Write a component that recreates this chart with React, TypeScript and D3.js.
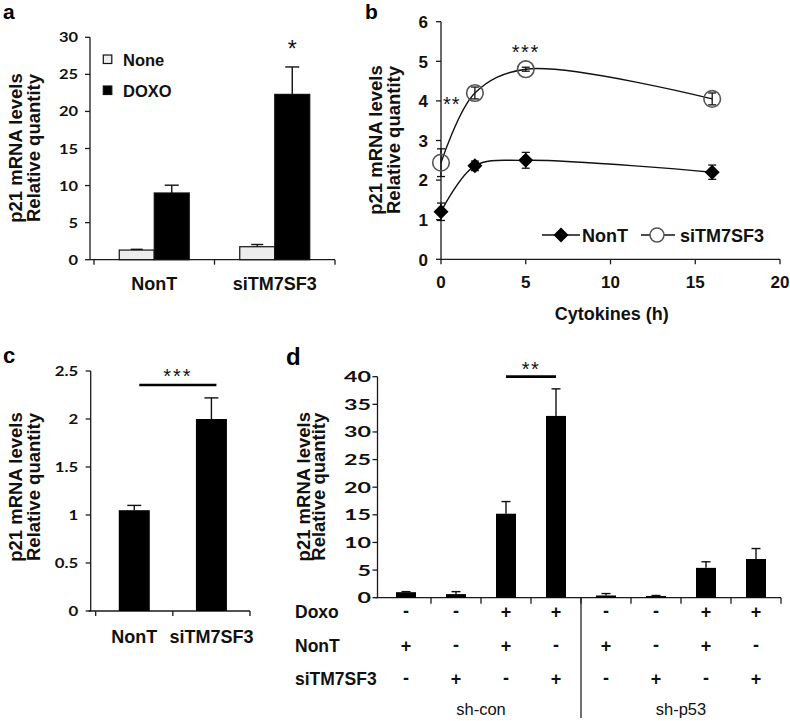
import React from "react";
import * as d3 from "d3";

// ---------- Panel a ----------
const aCategories = ["NonT", "siTM7SF3"];
const aSeries = ["None", "DOXO"];
const aNoneValues = [1.3, 1.75];
const aNoneErrors = [0.1, 0.3];
const aDoxoValues = [9.0, 22.3];
const aDoxoErrors = [1.05, 3.7];
const aYTicks = [0, 5, 10, 15, 20, 25, 30];

// ---------- Panel b ----------
const bTimes = [0, 2, 5, 16];
const bNonTValues = [1.2, 2.36, 2.5, 2.2];
const bNonTErrors = [0.22, 0.12, 0.2, 0.18];
const bSiValues = [2.44, 4.2, 4.8, 4.05];
const bSiErrors = [0.35, 0.15, 0.05, 0.15];
const bXTicks = [0, 5, 10, 15, 20];
const bYTicks = [0, 1, 2, 3, 4, 5, 6];
const bSeries = ["NonT", "siTM7SF3"];

// ---------- Panel c ----------
const cCategories = ["NonT", "siTM7SF3"];
const cValues = [1.05, 2.0];
const cErrors = [0.05, 0.22];
const cYTicks = [0, 0.5, 1, 1.5, 2, 2.5];

// ---------- Panel d ----------
const dValues = [1.0, 0.65, 15.2, 32.9, 0.4, 0.3, 5.4, 7.0];
const dErrors = [0.1, 0.45, 2.2, 4.9, 0.35, 0.1, 1.1, 1.9];
const dDoxo = ["-", "-", "+", "+", "-", "-", "+", "+"];
const dNonT = ["+", "-", "+", "-", "+", "-", "+", "-"];
const dSi = ["-", "+", "-", "+", "-", "+", "-", "+"];
const dRowLabels = ["Doxo", "NonT", "siTM7SF3"];
const dGroups = ["sh-con", "sh-p53"];
const dYTicks = [0, 5, 10, 15, 20, 25, 30, 35, 40];

const ARIAL = "'Liberation Sans', Arial, Helvetica, sans-serif";
const CAL = "Lato, 'Open Sans', sans-serif";
const AX = "#1a1a1a";

function SText({ x, y, sx = 1, anchor = "end", size, family, weight = "bold", children }: any) {
  return (
    <text
      transform={`translate(${x},${y}) scale(${sx},1)`}
      textAnchor={anchor}
      fontFamily={family}
      fontWeight={weight}
      fontSize={size}
      fill="#111"
    >
      {children}
    </text>
  );
}

function YTitle({ x1, x2, cy, size = 18.5 }: any) {
  return (
    <g fontFamily={ARIAL} fontWeight="bold" fontSize={size} fill="#111" textAnchor="middle">
      <text transform={`translate(${x1},${cy}) rotate(-90)`}>p21 mRNA levels</text>
      <text transform={`translate(${x2},${cy}) rotate(-90)`}>Relative quantity</text>
    </g>
  );
}

function PanelA() {
  const x = d3.scaleBand().domain(aCategories).range([94, 335]);
  const y = d3.scaleLinear().domain([0, 30]).range([259.7, 37.3]);
  const bw = 35;
  const axisX = 90;
  return (
    <g>
      <text x={3} y={19} fontFamily={ARIAL} fontWeight="bold" fontSize={21}>a</text>
      <YTitle x1={21.5} x2={39.5} cy={148} />
      <line x1={axisX} x2={axisX} y1={y(30)} y2={y(0)} stroke={AX} strokeWidth={1.3} />
      <line x1={axisX} x2={335} y1={y(0)} y2={y(0)} stroke={AX} strokeWidth={1.3} />
      {aYTicks.map((t) => (
        <g key={t}>
          <line x1={axisX - 5} x2={axisX} y1={y(t)} y2={y(t)} stroke={AX} strokeWidth={1.3} />
          <SText x={78} y={y(t) + 5} sx={1.22} size={13.5} family={CAL}>{t}</SText>
        </g>
      ))}
      {[94, ...aCategories.map((c) => (x(c) as number) + x.bandwidth())].map((v, i) => (
        <line key={i} x1={v} x2={v} y1={y(0)} y2={y(0) + 5} stroke={AX} strokeWidth={1.3} />
      ))}
      {aCategories.map((c, i) => {
        const cx = (x(c) as number) + x.bandwidth() / 2;
        return (
          <g key={c}>
            <line x1={cx - bw / 2} x2={cx - bw / 2} y1={y(aNoneValues[i])} y2={y(aNoneValues[i] + aNoneErrors[i])} stroke="#111" strokeWidth={1.4} />
            <line x1={cx - bw / 2 - 6} x2={cx - bw / 2 + 6} y1={y(aNoneValues[i] + aNoneErrors[i])} y2={y(aNoneValues[i] + aNoneErrors[i])} stroke="#111" strokeWidth={1.4} />
            <line x1={cx + bw / 2} x2={cx + bw / 2} y1={y(aDoxoValues[i])} y2={y(aDoxoValues[i] + aDoxoErrors[i])} stroke="#111" strokeWidth={1.4} />
            <line x1={cx + bw / 2 - 7} x2={cx + bw / 2 + 7} y1={y(aDoxoValues[i] + aDoxoErrors[i])} y2={y(aDoxoValues[i] + aDoxoErrors[i])} stroke="#111" strokeWidth={1.4} />
            <rect x={cx - bw} y={y(aNoneValues[i])} width={bw} height={y(0) - y(aNoneValues[i])} fill="#ededed" stroke="#111" strokeWidth={1.2} />
            <rect x={cx} y={y(aDoxoValues[i])} width={bw} height={y(0) - y(aDoxoValues[i])} fill="#000" stroke="#111" strokeWidth={1.2} />
            <SText x={cx} y={289.5} anchor="middle" size={18} family={ARIAL}>{c}</SText>
          </g>
        );
      })}
      <text x={(x("siTM7SF3") as number) + x.bandwidth() / 2 + bw / 2} y={57} textAnchor="middle" fontFamily={ARIAL} fontSize={23} fill="#111">*</text>
      {aSeries.map((s, i) => (
        <g key={s}>
          <rect x={103.3} y={55 + i * 31} width={8.5} height={8.5} fill={i === 0 ? "#ededed" : "#000"} stroke="#111" strokeWidth={1.2} />
          <text x={123} y={65.5 + i * 31.5} fontFamily={ARIAL} fontWeight="bold" fontSize={16.5} fill="#111">{s}</text>
        </g>
      ))}
    </g>
  );
}

function Diamond({ cx, cy, r }: any) {
  return <path d={`M${cx},${cy - r}L${cx + r},${cy}L${cx},${cy + r}L${cx - r},${cy}Z`} fill="#000" />;
}

function PanelB() {
  const x = d3.scaleLinear().domain([0, 20]).range([441, 780]);
  const y = d3.scaleLinear().domain([0, 6]).range([259.3, 21.7]);
  const line = d3
    .line<number>()
    .x((_, i) => x(bTimes[i]))
    .y((d) => y(d))
    .curve(d3.curveCatmullRom.alpha(0.5));
  return (
    <g>
      <text x={365} y={19} fontFamily={ARIAL} fontWeight="bold" fontSize={21}>b</text>
      <YTitle x1={381.5} x2={399.5} cy={140} />
      <line x1={x(0)} x2={x(0)} y1={y(6)} y2={y(0)} stroke={AX} strokeWidth={1.3} />
      <line x1={x(0)} x2={x(20)} y1={y(0)} y2={y(0)} stroke={AX} strokeWidth={1.3} />
      {bYTicks.map((t) => (
        <g key={t}>
          <line x1={x(0) - 5} x2={x(0)} y1={y(t)} y2={y(t)} stroke={AX} strokeWidth={1.3} />
          <text x={428} y={y(t) + 6.2} textAnchor="end" fontFamily={ARIAL} fontWeight="bold" fontSize={17} fill="#111">{t}</text>
        </g>
      ))}
      {bXTicks.map((t) => (
        <g key={t}>
          <line x1={x(t)} x2={x(t)} y1={y(0)} y2={y(0) + 5} stroke={AX} strokeWidth={1.3} />
          <text x={x(t)} y={287.5} textAnchor="middle" fontFamily={ARIAL} fontWeight="bold" fontSize={17} fill="#111">{t}</text>
        </g>
      ))}
      <text x={611.7} y={319.5} textAnchor="middle" fontFamily={ARIAL} fontWeight="bold" fontSize={18} fill="#111">Cytokines (h)</text>
      <path d={line(bNonTValues) as string} fill="none" stroke="#111" strokeWidth={1.4} />
      <path d={line(bSiValues) as string} fill="none" stroke="#111" strokeWidth={1.4} />
      {bTimes.map((t, i) => (
        <g key={"e" + t} stroke="#111" strokeWidth={1.3}>
          <line x1={x(t)} x2={x(t)} y1={y(bNonTValues[i] - bNonTErrors[i])} y2={y(bNonTValues[i] + bNonTErrors[i])} />
          <line x1={x(t) - 4} x2={x(t) + 4} y1={y(bNonTValues[i] - bNonTErrors[i])} y2={y(bNonTValues[i] - bNonTErrors[i])} />
          <line x1={x(t) - 4} x2={x(t) + 4} y1={y(bNonTValues[i] + bNonTErrors[i])} y2={y(bNonTValues[i] + bNonTErrors[i])} />
          <line x1={x(t)} x2={x(t)} y1={y(bSiValues[i] - bSiErrors[i])} y2={y(bSiValues[i] + bSiErrors[i])} />
          <line x1={x(t) - 4} x2={x(t) + 4} y1={y(bSiValues[i] - bSiErrors[i])} y2={y(bSiValues[i] - bSiErrors[i])} />
          <line x1={x(t) - 4} x2={x(t) + 4} y1={y(bSiValues[i] + bSiErrors[i])} y2={y(bSiValues[i] + bSiErrors[i])} />
        </g>
      ))}
      {bTimes.map((t, i) => (
        <g key={"m" + t}>
          <Diamond cx={x(t)} cy={y(bNonTValues[i])} r={7.5} />
          <circle cx={x(t)} cy={y(bSiValues[i])} r={8.3} fill="none" stroke="#555" strokeWidth={1.6} />
        </g>
      ))}
      <text x={451.7} y={110.5} textAnchor="middle" fontFamily={ARIAL} fontSize={20} letterSpacing={1} fill="#111">**</text>
      <text x={x(5)} y={59.2} textAnchor="middle" fontFamily={ARIAL} fontSize={20} letterSpacing={1.5} fill="#111">***</text>
      <line x1={542} x2={580} y1={235} y2={235} stroke="#111" strokeWidth={1.4} />
      <Diamond cx={561} cy={235} r={7.5} />
      <text x={582} y={241.5} fontFamily={ARIAL} fontWeight="bold" fontSize={18} fill="#111">{bSeries[0]}</text>
      <line x1={641} x2={675} y1={235} y2={235} stroke="#111" strokeWidth={1.4} />
      <circle cx={657} cy={235} r={7} fill="#fff" stroke="#555" strokeWidth={1.5} />
      <text x={680} y={241.5} fontFamily={ARIAL} fontWeight="bold" fontSize={18} fill="#111">{bSeries[1]}</text>
    </g>
  );
}

function PanelC() {
  const x = d3.scaleBand().domain(cCategories).range([95.7, 250]);
  const y = d3.scaleLinear().domain([0, 2.5]).range([611, 371]);
  const bw = 31;
  const axisX = 90.7;
  const c0 = (x(cCategories[0]) as number) + x.bandwidth() / 2;
  const c1 = (x(cCategories[1]) as number) + x.bandwidth() / 2;
  return (
    <g>
      <text x={3} y={363} fontFamily={ARIAL} fontWeight="bold" fontSize={22}>c</text>
      <YTitle x1={21.5} x2={39.5} cy={487} />
      <line x1={axisX} x2={axisX} y1={y(2.5)} y2={y(0)} stroke={AX} strokeWidth={1.3} />
      <line x1={axisX - 2} x2={250} y1={y(0)} y2={y(0)} stroke={AX} strokeWidth={1.3} />
      {cYTicks.map((t) => (
        <g key={t}>
          <line x1={axisX - 5} x2={axisX} y1={y(t)} y2={y(t)} stroke={AX} strokeWidth={1.3} />
          <SText x={78.3} y={y(t) + 5} sx={1.2} size={14} family={CAL}>{t}</SText>
        </g>
      ))}
      {[95.7, ...cCategories.map((c) => (x(c) as number) + x.bandwidth())].map((v, i) => (
        <line key={i} x1={v} x2={v} y1={y(0)} y2={y(0) + 5} stroke={AX} strokeWidth={1.3} />
      ))}
      {cCategories.map((c, i) => {
        const cx = (x(c) as number) + x.bandwidth() / 2;
        return (
          <g key={c}>
            <line x1={cx} x2={cx} y1={y(cValues[i])} y2={y(cValues[i] + cErrors[i])} stroke="#111" strokeWidth={1.4} />
            <line x1={cx - 7} x2={cx + 7} y1={y(cValues[i] + cErrors[i])} y2={y(cValues[i] + cErrors[i])} stroke="#111" strokeWidth={1.4} />
            <rect x={cx - bw / 2} y={y(cValues[i])} width={bw} height={y(0) - y(cValues[i])} fill="#000" />
            <SText x={cx} y={642.5} anchor="middle" size={18} family={ARIAL}>{c}</SText>
          </g>
        );
      })}
      <line x1={c0 + 5} x2={c1 + 5} y1={385} y2={385} stroke="#000" strokeWidth={2.7} />
      <text x={(c0 + c1) / 2 + 5} y={383.2} textAnchor="middle" fontFamily={ARIAL} fontSize={20} letterSpacing={2} fill="#111">***</text>
    </g>
  );
}

function PanelD() {
  const idx = d3.range(dValues.length);
  const x = d3.scaleBand<number>().domain(idx).range([381, 781]);
  const y = d3.scaleLinear().domain([0, 40]).range([597.7, 376.7]);
  const bw = 20;
  const axisX = 377.5;
  const cx = (i: number) => (x(i) as number) + x.bandwidth() / 2;
  const rows = [dDoxo, dNonT, dSi];
  const rowY = [618, 651.5, 685];
  const divX = x(4) as number;
  return (
    <g>
      <text x={286} y={365} fontFamily={ARIAL} fontWeight="bold" fontSize={24}>d</text>
      <YTitle x1={309.5} x2={325} cy={486.7} />
      <line x1={axisX} x2={axisX} y1={y(40)} y2={y(0)} stroke={AX} strokeWidth={1.3} />
      <line x1={axisX - 2} x2={781} y1={y(0)} y2={y(0)} stroke={AX} strokeWidth={1.3} />
      {dYTicks.map((t) => (
        <g key={t}>
          <line x1={axisX - 5} x2={axisX} y1={y(t)} y2={y(t)} stroke={AX} strokeWidth={1.3} />
          <SText x={371} y={y(t) + 5.5} sx={1.5} size={15.5} family={CAL}>{t}</SText>
        </g>
      ))}
      {idx.map((i) => (
        <line key={i} x1={(x(i) as number) + x.bandwidth()} x2={(x(i) as number) + x.bandwidth()} y1={y(0)} y2={y(0) + 6} stroke={AX} strokeWidth={1.3} />
      ))}
      {idx.map((i) => (
        <g key={"b" + i}>
          <line x1={cx(i)} x2={cx(i)} y1={y(dValues[i])} y2={y(dValues[i] + dErrors[i])} stroke="#111" strokeWidth={1.4} />
          <line x1={cx(i) - 4.5} x2={cx(i) + 4.5} y1={y(dValues[i] + dErrors[i])} y2={y(dValues[i] + dErrors[i])} stroke="#111" strokeWidth={1.4} />
          <rect x={cx(i) - bw / 2} y={y(dValues[i])} width={bw} height={y(0) - y(dValues[i])} fill="#000" />
        </g>
      ))}
      <line x1={cx(2)} x2={cx(3)} y1={y(40)} y2={y(40)} stroke="#000" strokeWidth={2.7} />
      <text x={(cx(2) + cx(3)) / 2} y={375.5} textAnchor="middle" fontFamily={ARIAL} fontSize={20} letterSpacing={1.5} fill="#111">**</text>
      <line x1={divX} x2={divX} y1={y(0)} y2={718} stroke="#222" strokeWidth={1.3} />
      {dRowLabels.map((r, k) => (
        <text key={r} x={295} y={rowY[k]} fontFamily={ARIAL} fontWeight="bold" fontSize={17.5} fill="#111">{r}</text>
      ))}
      {rows.map((row, k) =>
        row.map((s, i) => (
          <text key={k + "-" + i} x={cx(i)} y={rowY[k] - (s === "-" ? 1 : 0)} textAnchor="middle" fontFamily={ARIAL} fontWeight="bold" fontSize={18} fill="#111">{s}</text>
        ))
      )}
      {dGroups.map((g, k) => (
        <text key={g} x={(cx(k * 4 + 1) + cx(k * 4 + 2)) / 2} y={715} textAnchor="middle" fontFamily={ARIAL} fontSize={16.5} fill="#111">{g}</text>
      ))}
    </g>
  );
}

export default function App() {
  return (
    <svg
      width={790}
      height={721}
      viewBox="0 0 790 721"
      style={{ position: "absolute", left: 0, top: 0, background: "#fff" }}
    >
      <rect width={790} height={721} fill="#fff" />
      <PanelA />
      <PanelB />
      <PanelC />
      <PanelD />
    </svg>
  );
}
